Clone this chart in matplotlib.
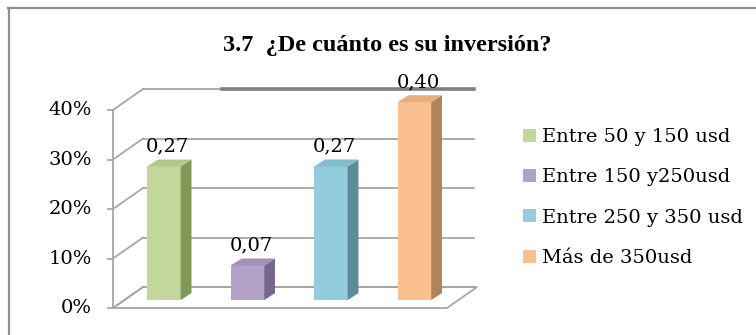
import matplotlib
matplotlib.use("Agg")
import matplotlib.pyplot as plt
from matplotlib.patches import Patch, Polygon
from matplotlib.lines import Line2D

title = "3.7  ¿De cuánto es su inversión?"
categories = ["Entre 50 y 150 usd", "Entre 150 y250usd", "Entre 250 y 350 usd", "Más de 350usd"]
values = [0.27, 0.07, 0.27, 0.40]
value_labels = ["0,27", "0,07", "0,27", "0,40"]
yticks = [0.0, 0.1, 0.2, 0.3, 0.4]
ytick_labels = ["0%", "10%", "20%", "30%", "40%"]

front_colors = ["#C3D69B", "#B3A2C7", "#93CDDD", "#FAC090"]
top_colors = ["#B2C788", "#A291B8", "#82BCCD", "#E9AE7E"]
side_colors = ["#7F9A56", "#76668F", "#5D8B9A", "#B3835C"]
grid_color = "#A6A6A6"

W, H = 756, 335
fig = plt.figure(figsize=(W / 100, H / 100), dpi=100)

# front plane of the 3D box: x in category units, y in value units
ax = fig.add_axes([113 / W, 27 / H, 334 / W, 198 / H])
ax.set_xlim(-0.5, 3.5)
ax.set_ylim(0, 0.4)
ax.axis("off")

# depth of the box (back wall offset) and of the bars
DX, DY = 0.36, 0.0424
b0x, b0y = 0.11, 0.016
bdx, bdy = 0.13, 0.014
bw = 0.40

# floor
floor = Polygon([(-0.5, 0), (3.5, 0), (3.5 + DX, DY), (-0.5 + DX, DY)],
                closed=True, facecolor="white", edgecolor=grid_color, lw=1.3,
                zorder=1, clip_on=False)
ax.add_patch(floor)

# back wall gridlines and left wall diagonals
for t in yticks:
    ax.plot([-0.5, -0.5 + DX], [t, t + DY], color=grid_color, lw=1.3, clip_on=False, zorder=1)
    if t == yticks[-1]:
        ax.plot([-0.5 + DX, 0.8], [t + DY] * 2, color=grid_color, lw=1.3, clip_on=False, zorder=1)
        ax.plot([0.8, 3.5 + DX * 0.9], [t + DY] * 2, color="#7F7F7F", lw=2.6, clip_on=False, zorder=1)
    else:
        ax.plot([-0.5 + DX, 3.5 + DX * 0.9], [t + DY] * 2, color=grid_color, lw=1.3, clip_on=False, zorder=1)
    ax.plot([-0.5 - 0.065, -0.5], [t, t], color=grid_color, lw=1.3, clip_on=False, zorder=1)
    ax.text(-0.5 - 0.25, t, ytick_labels[yticks.index(t)], ha="right", va="center",
            fontsize=14, family="DejaVu Serif", color="black")
ax.plot([-0.5, -0.5], [0, 0.4], color=grid_color, lw=1.3, clip_on=False, zorder=1)

# 3D columns: front face, right side, top
x = list(range(len(values)))
ax.bar([i + b0x for i in x], values, width=bw, bottom=b0y, color=front_colors,
       zorder=3, clip_on=False)
for i, v in enumerate(values):
    xl = i + b0x - bw / 2
    xr = i + b0x + bw / 2
    yb = b0y
    yt = b0y + v
    ax.add_patch(Polygon([(xr, yb), (xr + bdx, yb + bdy), (xr + bdx, yt + bdy), (xr, yt)],
                         closed=True, facecolor=side_colors[i], edgecolor="none",
                         zorder=3, clip_on=False))
    ax.add_patch(Polygon([(xl, yt), (xr, yt), (xr + bdx, yt + bdy), (xl + bdx, yt + bdy)],
                         closed=True, facecolor=top_colors[i], edgecolor="none",
                         zorder=3, clip_on=False))
    ax.text(i + b0x + bdx / 3, yt + bdy + 0.008, value_labels[i], ha="center", va="bottom",
            fontsize=14, family="DejaVu Serif", color="black", zorder=4)

fig.text(387 / W, 1 - 45 / H, title, ha="center", va="center", fontsize=17.5,
         fontweight="bold", family="Liberation Serif")

handles = [Patch(facecolor=c, edgecolor="none") for c in front_colors]
fig.legend(handles, categories, loc="center left", bbox_to_anchor=(523 / W, 1 - 197.5 / H),
           frameon=False, borderpad=0, borderaxespad=0, handlelength=0.67, handleheight=0.67,
           handletextpad=0.3, labelspacing=1.15,
           prop={"family": "DejaVu Serif", "size": 14})

# chart border (top and left edges)
fig.add_artist(Line2D([8 / W, 1], [1 - 8 / H] * 2, color="#8E8E8E", lw=1.6))
fig.add_artist(Line2D([9 / W] * 2, [0, 1 - 8 / H], color="#8E8E8E", lw=1.6))

fig.savefig("out.png", dpi=100)
